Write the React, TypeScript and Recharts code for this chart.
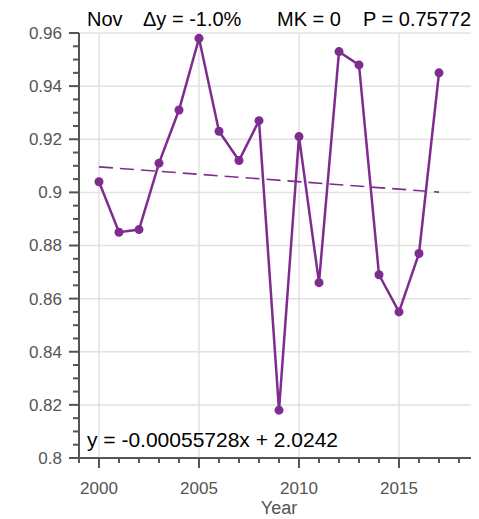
import { LineChart, Line, XAxis, YAxis, CartesianGrid } from 'recharts';

const years = [2000, 2001, 2002, 2003, 2004, 2005, 2006, 2007, 2008, 2009, 2010, 2011, 2012, 2013, 2014, 2015, 2016, 2017];
const novValues = [0.904, 0.885, 0.886, 0.911, 0.931, 0.958, 0.923, 0.912, 0.927, 0.818, 0.921, 0.866, 0.953, 0.948, 0.869, 0.855, 0.877, 0.945];

// fitted trend, read at both ends of the data
const trendYears = [2000, 2017];
const trendValues = [0.9096, 0.9001];

const xMajorTicks = [2000, 2005, 2010, 2015];
const xMinorTicks = [1999, 2000, 2001, 2002, 2003, 2004, 2005, 2006, 2007, 2008, 2009, 2010, 2011, 2012, 2013, 2014, 2015, 2016, 2017, 2018, 2019];
const yMajorTicks = [0.8, 0.82, 0.84, 0.86, 0.88, 0.9, 0.92, 0.94, 0.96];
const yMinorTicks = yMajorTicks.slice(0, -1).flatMap((v) => [0, 1, 2, 3].map((i) => Number((v + i * 0.005).toFixed(3)))).concat([0.96]);

const titleParts = ['Nov', 'Δy = -1.0%', 'MK = 0', 'P = 0.75772'];
const titleX = [79, 135, 269, 355];
const equation = 'y = -0.00055728x + 2.0242';
const xLabel = 'Year';

const data = years.map((year, i) => ({ year, value: novValues[i] }));
const trendData = trendYears.map((year, i) => ({ year, trend: trendValues[i] }));

const PURPLE = '#7e2d8f';
const AXIS = '#555';
const FONT = '"Liberation Sans", Arial, Helvetica, sans-serif';

const XTick = (props: any) => {
  const { x, y, payload } = props;
  const major = xMajorTicks.includes(payload.value);
  return (
    <g>
      <line x1={x} y1={y} x2={x} y2={y + (major ? 10 : 5)} stroke={AXIS} strokeWidth={2} />
      {major && (
        <text x={x} y={y + 36} textAnchor="middle" fontSize={17} fill={AXIS} fontFamily={FONT}>
          {payload.value}
        </text>
      )}
    </g>
  );
};

const YTick = (props: any) => {
  const { x, y, payload } = props;
  const major = yMajorTicks.some((v) => Math.abs(v - payload.value) < 1e-6);
  return (
    <g>
      <line x1={x} y1={y} x2={x - (major ? 10 : 6)} y2={y} stroke={AXIS} strokeWidth={2} />
      {major && (
        <text x={x - 17} y={y} dy="0.35em" textAnchor="end" fontSize={17} fill={AXIS} fontFamily={FONT}>
          {String(payload.value)}
        </text>
      )}
    </g>
  );
};

export default function App() {
  return (
    <LineChart width={471} height={511} data={data} margin={{ top: 25, right: 0, left: 0, bottom: 0 }}>
      <CartesianGrid
        verticalValues={xMajorTicks}
        horizontalValues={yMajorTicks}
        stroke="#e2e2e2"
        strokeWidth={1.5}
      />
      <XAxis
        type="number"
        dataKey="year"
        domain={[1999, 2019]}
        ticks={xMinorTicks}
        interval={0}
        height={61}
        tickSize={0}
        tickMargin={0}
        tickLine={false}
        tick={<XTick />}
        axisLine={{ stroke: AXIS, strokeWidth: 2 }}
        allowDataOverflow
      />
      <YAxis
        type="number"
        domain={[0.8, 0.96]}
        ticks={yMinorTicks}
        interval={0}
        width={71}
        tickSize={0}
        tickMargin={0}
        tickLine={false}
        tick={<YTick />}
        axisLine={{ stroke: AXIS, strokeWidth: 2 }}
        allowDataOverflow
      />
      <Line
        data={trendData}
        dataKey="trend"
        stroke={PURPLE}
        strokeWidth={1.6}
        strokeDasharray="14 7"
        dot={false}
        isAnimationActive={false}
      />
      <Line
        dataKey="value"
        stroke={PURPLE}
        strokeWidth={2.5}
        dot={{ r: 4.5, fill: PURPLE, stroke: 'none' }}
        isAnimationActive={false}
      />
      {titleParts.map((t, i) => (
        <text key={t} x={titleX[i]} y={18} fontSize={20} fill="#000" fontFamily={FONT}>
          {t}
        </text>
      ))}
      <text x={79} y={439} fontSize={21} fill="#000" fontFamily={FONT}>
        {equation}
      </text>
      <text x={271} y={506} textAnchor="middle" fontSize={18} fill={AXIS} fontFamily={FONT}>
        {xLabel}
      </text>
    </LineChart>
  );
}
